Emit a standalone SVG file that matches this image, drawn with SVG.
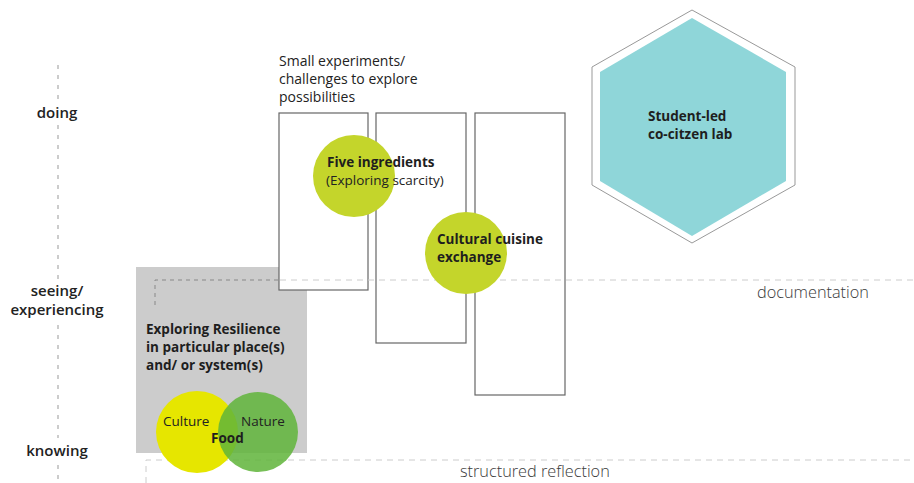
<svg xmlns="http://www.w3.org/2000/svg" width="914" height="483" viewBox="0 0 914 483">
<style>
.lbl{font-family:"Open Sans","Liberation Sans",sans-serif;fill:#222}
.axis{font-family:"Open Sans","Liberation Sans",sans-serif;font-size:15px;font-weight:600;fill:#222;text-anchor:middle}
.bold{font-family:"Open Sans","Liberation Sans",sans-serif;font-size:13.5px;font-weight:bold;fill:#1e1e1e}
.light{font-family:"Open Sans","Liberation Sans",sans-serif;font-size:16.3px;font-weight:300;fill:#3a3a3a}
.dash{fill:none;stroke:#ccc;stroke-width:1;stroke-dasharray:6 5}
.card{fill:#fff;stroke:#666;stroke-width:1.2}
.lime{fill:#c4d52b}
</style>
<rect width="914" height="483" fill="#fff"/>
<g id="axis">
<line x1="58" y1="65" x2="58" y2="483" stroke="#999" stroke-width="1" stroke-dasharray="4 6"/>
<rect x="28" y="100" width="60" height="22" fill="#fff"/>
<rect x="4" y="279" width="108" height="40" fill="#fff"/>
<rect x="18" y="438" width="80" height="22" fill="#fff"/>
<text class="axis" x="57" y="118">doing</text>
<text class="axis" x="57" y="296">seeing/</text>
<text class="axis" x="57" y="315">experiencing</text>
<text class="axis" x="57" y="456">knowing</text>
</g>
<g id="resilience">
<rect x="136" y="267" width="171" height="186" fill="#cccccc"/>
<text class="bold" x="146" y="334">Exploring Resilience</text>
<text class="bold" x="146" y="352">in particular place(s)</text>
<text class="bold" x="146" y="370">and/ or system(s)</text>
</g>
<g id="cards">
<rect id="card1" class="card" x="279" y="113" width="89" height="177"/>
<rect id="card2" class="card" x="376" y="113" width="90" height="230"/>
<rect id="card3" class="card" x="475" y="113" width="90" height="282"/>
</g>
<g id="connectors">
<polyline points="155,305 155,280 280,280" fill="none" stroke="#888" stroke-width="1" stroke-dasharray="4 4"/>
<polyline class="dash" points="280,280 914,280"/>
<polyline class="dash" points="146,483 146,460 914,460"/>
</g>
<g id="small-experiments">
<text class="lbl" font-size="14" x="279" y="66">Small experiments/</text>
<text class="lbl" font-size="14" x="279" y="84">challenges to explore</text>
<text class="lbl" font-size="14" x="279" y="102">possibilities</text>
</g>
<g id="five-ingredients">
<circle class="lime" cx="354" cy="176" r="41"/>
<text class="bold" x="327" y="167" font-size="13.3">Five ingredients</text>
<text class="lbl" font-size="13.5" x="326" y="185" fill="#555">(Exploring scarcity)</text>
</g>
<g id="cultural-cuisine">
<circle class="lime" cx="466" cy="253" r="41"/>
<text class="bold" x="437" y="244">Cultural cuisine</text>
<text class="bold" x="437" y="262">exchange</text>
</g>
<g id="co-citizen-lab">
<polygon points="692,10 795,67 795,185 692,243 592,185 592,67" fill="#fff" stroke="#999" stroke-width="1"/>
<polygon points="692,18 786,72 786,181 692,236 600,181 600,72" fill="#8fd6d9"/>
<text class="bold" x="648" y="121" fill="#1c2b3a" font-size="14.3">Student-led</text>
<text class="bold" x="648" y="139" fill="#1c2b3a" font-size="14.3">co-citzen lab</text>
</g>
<g id="food">
<circle cx="197" cy="432" r="41" fill="#e6e600"/>
<circle cx="258" cy="432" r="40" fill="#5fb43a" fill-opacity="0.85"/>
<text class="lbl" font-size="13.5" x="163" y="426" fill="#7a5a10">Culture</text>
<text class="lbl" font-size="13.5" x="241" y="426" fill="#2e6e2e">Nature</text>
<text class="bold" x="211" y="443">Food</text>
</g>
<g id="labels">
<text class="light" x="757" y="298">documentation</text>
<text class="light" x="460" y="477">structured reflection</text>
</g>
</svg>
